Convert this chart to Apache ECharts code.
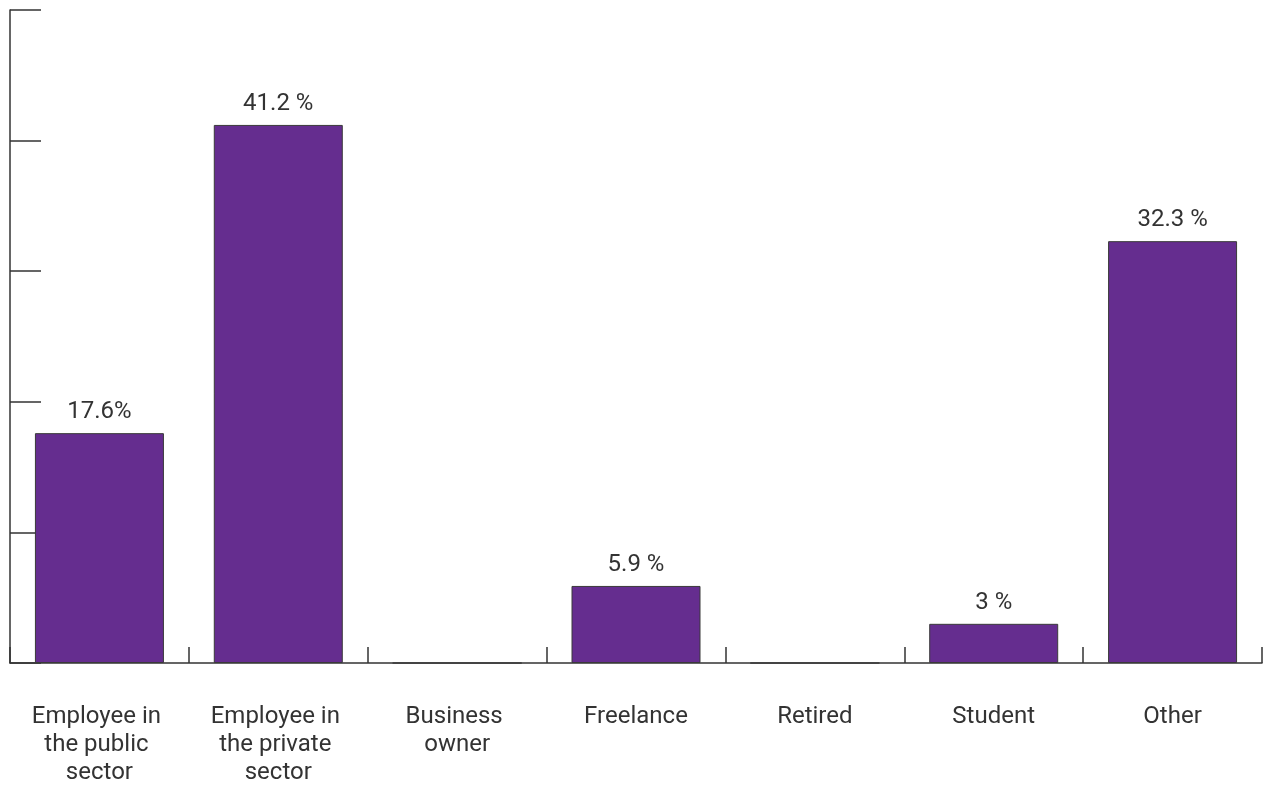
<!DOCTYPE html>
<html>
<head>
<meta charset="utf-8">
<script src="https://cdn.jsdelivr.net/npm/echarts@6/dist/echarts.min.js"></script>
<style>
html,body{margin:0;padding:0;background:#fff;}
#chart{width:1272px;height:787px;}
</style>
</head>
<body>
<div id="chart"></div>
<script>
const categories = ['Employee in the public sector', 'Employee in the private sector', 'Business owner', 'Freelance', 'Retired', 'Student', 'Other'];
const values = [17.6, 41.2, 0, 5.9, 0, 3, 32.3];
const valueLabels = ['17.6%', '41.2 %', '', '5.9 %', '', '3 %', '32.3 %'];

const chart = echarts.init(document.getElementById('chart'));
chart.setOption({
  animation: false,
  backgroundColor: '#ffffff',
  textStyle: { fontFamily: 'Roboto' },
  grid: { left: 10, right: 10, top: 10, bottom: 122, containLabel: false },
  xAxis: {
    type: 'category',
    data: categories,
    axisLine: { show: true, lineStyle: { color: '#333', width: 1.5 } },
    axisTick: { show: true, inside: true, length: 16, lineStyle: { color: '#333', width: 1.5 } },
    axisLabel: {
      interval: 0,
      margin: 40,
      color: '#333',
      fontSize: 24,
      lineHeight: 28,
      fontFamily: 'Roboto',
      width: 150,
      overflow: 'break'
    }
  },
  yAxis: {
    type: 'value',
    min: 0,
    max: 50,
    interval: 10,
    axisLine: { show: true, lineStyle: { color: '#333', width: 1.5 } },
    axisTick: { show: true, inside: true, length: 31, lineStyle: { color: '#333', width: 1.5 } },
    axisLabel: { show: false },
    splitLine: { show: false }
  },
  series: [{
    type: 'bar',
    data: values,
    barWidth: 129,
    itemStyle: { color: '#652d8f', borderColor: '#3a3a3a', borderWidth: 1 },
    label: {
      show: true,
      position: 'top',
      distance: 7,
      color: '#333',
      fontSize: 24,
      lineHeight: 28,
      fontFamily: 'Roboto',
      formatter: p => valueLabels[p.dataIndex]
    }
  }]
});
</script>
</body>
</html>
